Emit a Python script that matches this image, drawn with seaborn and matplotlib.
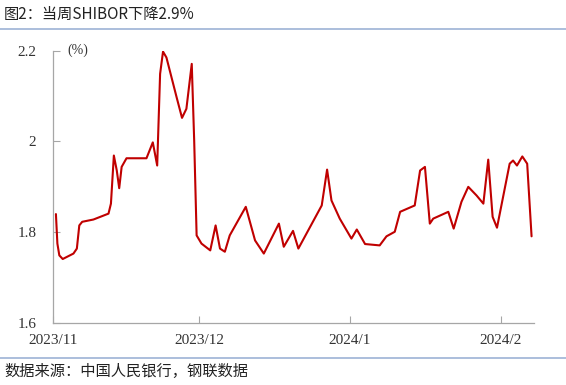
import matplotlib
matplotlib.use("Agg")
import matplotlib.pyplot as plt
import seaborn as sns
import pandas as pd

title = "图2：当周SHIBOR下降2.9%"
source = "数据来源：中国人民银行，钢联数据"
unit = "(%)"

start_date = "2023-11-01"
day_offsets = [0.6, 0.9, 1.3, 2.0, 4.2, 4.9, 5.4, 6.0, 8.3, 11.4, 11.9, 12.5, 13.1, 13.6,
               14.1, 15.1, 19.2, 20.5, 21.4, 22.0, 22.6, 23.3, 25.4, 26.5, 27.4, 28.5,
               29.0, 29.5, 30.5, 32.3, 33.4, 34.3, 35.3, 36.3, 39.6, 41.5, 43.3, 46.4,
               47.4, 49.3, 50.4, 55.2, 56.3, 57.2, 58.9, 61.3, 62.4, 64.1, 67.1, 68.5,
               70.2, 71.3, 74.3, 75.4, 76.4, 77.4, 78.1, 81.2, 82.3, 83.9, 85.3, 87.0,
               88.4, 89.4, 90.3, 91.2, 93.8, 94.5, 95.3, 96.4, 97.4, 98.3]
shibor = [1.840, 1.775, 1.749, 1.741, 1.753, 1.764, 1.815, 1.823, 1.828, 1.841, 1.863, 1.969, 1.936, 1.897,
          1.944, 1.963, 1.963, 1.998, 1.947, 2.149, 2.198, 2.185, 2.097, 2.052, 2.072, 2.171,
          2.002, 1.793, 1.775, 1.760, 1.815, 1.764, 1.757, 1.793, 1.856, 1.782, 1.753, 1.819,
          1.768, 1.803, 1.764, 1.859, 1.938, 1.870, 1.830, 1.786, 1.806, 1.774, 1.771, 1.791,
          1.801, 1.845, 1.859, 1.936, 1.944, 1.819, 1.830, 1.845, 1.808, 1.867, 1.900, 1.881,
          1.863, 1.960, 1.834, 1.810, 1.951, 1.958, 1.947, 1.967, 1.951, 1.791]

y_ticks = [1.6, 1.8, 2.0, 2.2]
y_tick_labels = ["1.6", "1.8", "2", "2.2"]
x_tick_dates = ["2023-11-01", "2023-12-01", "2024-01-01", "2024-02-01"]
x_tick_labels = ["2023/11", "2023/12", "2024/1", "2024/2"]

sns.set_theme(style="white")
plt.rcParams["font.family"] = ["Liberation Serif", "Noto Sans CJK SC", "DejaVu Sans"]

t0 = pd.Timestamp(start_date)
df = pd.DataFrame({
    "date": [t0 + pd.to_timedelta(d, unit="D") for d in day_offsets],
    "value": shibor,
})

fig = plt.figure(figsize=(5.66, 3.85), dpi=100)
ax = fig.add_axes([53 / 566, 1 - 323 / 385, (534 - 53) / 566, (323 - 50.7) / 385])

sns.lineplot(data=df, x="date", y="value", ax=ax, color="#C00000", linewidth=1.5)
for ln in ax.get_lines():
    ln.set_solid_joinstyle("round")
    ln.set_solid_capstyle("round")

ax.set_xlim(t0, t0 + pd.Timedelta(days=98.8))
ax.set_ylim(1.6, 2.2)
ax.set_yticks(y_ticks)
ax.set_yticklabels(y_tick_labels)
ax.set_xticks([pd.Timestamp(d) for d in x_tick_dates])
ax.set_xticklabels(x_tick_labels)
ax.set_xlabel("")
ax.set_ylabel("")

for s in ["top", "right"]:
    ax.spines[s].set_visible(False)
for s in ["left", "bottom"]:
    ax.spines[s].set_color("#A6A6A6")
    ax.spines[s].set_linewidth(0.9)

ax.tick_params(axis="both", direction="in", length=5, width=0.8, color="#A6A6A6",
               labelsize=11, labelcolor="#333333")
ax.tick_params(axis="y", pad=12, left=True)
ax.tick_params(axis="x", pad=8, bottom=True)
ax.grid(False)

ax.text(0.03, 1.0, unit, transform=ax.transAxes, fontsize=10, color="#333333",
        va="center", ha="left")

fig.text(4 / 566, 1 - 14 / 385, title, fontsize=11, color="#222222", va="center", ha="left",
         family=["Noto Sans CJK SC", "DejaVu Sans"])
fig.text(4 / 566, 1 - 371 / 385, source, fontsize=11, color="#222222", va="center", ha="left",
         family=["Noto Sans CJK SC", "DejaVu Sans"])

fig.add_artist(plt.Line2D([0, 1], [1 - 29 / 385, 1 - 29 / 385], transform=fig.transFigure,
                          color="#9DB3D6", linewidth=1.2))
fig.add_artist(plt.Line2D([0, 1], [1 - 358 / 385, 1 - 358 / 385], transform=fig.transFigure,
                          color="#9DB3D6", linewidth=1.2))

fig.savefig("out.png", dpi=100)
